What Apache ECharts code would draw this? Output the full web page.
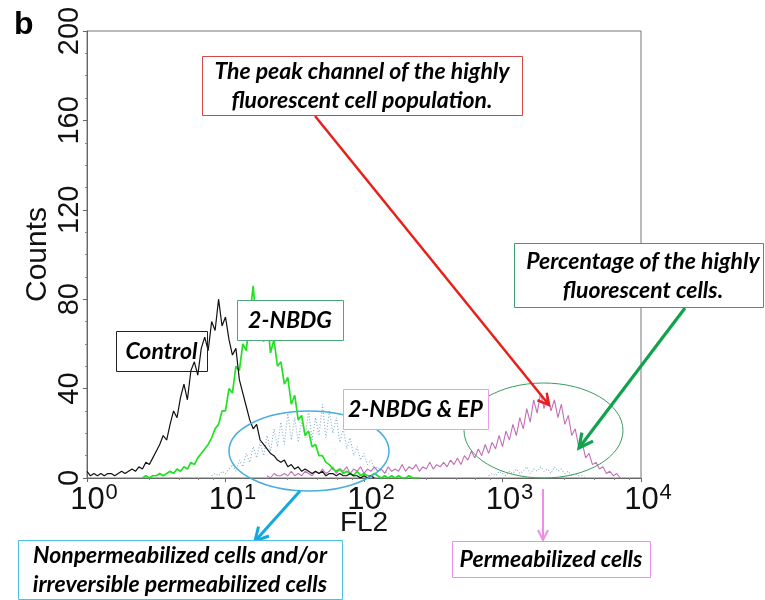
<!DOCTYPE html>
<html><head><meta charset="utf-8">
<script src="https://cdn.jsdelivr.net/npm/echarts@6/dist/echarts.min.js"></script>
<style>html,body{margin:0;padding:0;background:#fff}#c{width:765px;height:600px}</style>
</head><body><div id="c"></div>
<script>
// FL2 channel grid: one channel per 0.025 decade
const LOG_STEP = 0.025;
const xTickExponents = [0, 1, 2, 3, 4];
const yTicks = [0, 40, 80, 120, 160, 200];

// Control (black)
const controlStart = 0;
const controlCounts = [3,1,2,1,2,1,2,2,1,2,
 3,2,3,4,3,5,4,7,6,9,
 12,15,19,17,24,30,27,36,42,35,
 48,52,46,58,63,57,70,66,80,68,
 72,62,55,58,44,38,32,26,22,24,
 17,15,13,11,10,8,7,8,5,6,
 4,5,3,4,3,2,3,2,3,1,
 2,2,1,2,1,1,2,1,1,0,
 1,0,1,0];

// 2-NBDG (green)
const nbdgStart = 16;
const nbdgCounts = [0,1,0,1,1,2,1,2,3,2,
 4,3,5,4,7,6,9,11,13,15,
 18,22,24,30,30,40,38,50,48,60,
 57,72,86,66,76,61,72,56,62,50,
 52,42,45,33,37,26,28,19,21,14,
 15,10,10,7,6,4,3,4,2,3,
 2,1,3,1,2,1,1,2,1,0,
 1,0,1,0,1,0,0,1,0,0,0];

// 2-NBDG & EP, non-permeabilized part (light blue, dotted)
const lowStart = 36;
const lowCounts = [1,2,1,3,2,4,6,3,8,5,
 11,7,14,9,16,10,19,12,22,14,
 25,15,29,17,27,16,26,18,30,17,
 27,19,33,18,30,20,27,16,22,13,
 18,10,14,8,11,6,8,4,5,3,
 3,2,1];
const lowHighStart = 116;
const lowHighCounts = [1,2,1,3,2,1,3,2,4,2,3,5,2,4,3,5,3,4,2,5,3,4,2,3,1,2,1,1,0];

// 2-NBDG & EP (pink)
const epStart = 52;
const epCounts = [1,0,2,1,1,2,1,3,1,2,
 1,3,2,1,3,2,4,2,3,5,
 2,4,3,5,2,4,3,5,2,4,
 3,5,3,4,2,5,3,4,3,6,
 3,5,4,6,3,5,4,7,4,6,
 5,7,5,8,6,9,6,10,8,12,
 9,13,10,15,11,16,13,19,14,21,
 17,24,19,27,22,31,25,35,29,38,
 31,37,30,35,27,33,24,28,19,22,
 14,16,9,11,6,7,4,5,2,3,
 1,2,0];

function toPairs(start, counts) {
  return counts.map((v, i) => [Math.pow(10, (start + i) * LOG_STEP), v]);
}

const FONT_AX = 'Liberation Sans, Arial, sans-serif';
const FONT_NOTE = 'Lato, Open Sans, sans-serif';

function arrow(x1, y1, x2, y2, color, w, hl, hw) {
  const dx = x2 - x1, dy = y2 - y1, L = Math.hypot(dx, dy), ux = dx / L, uy = dy / L;
  const bx = x2 - ux * hl, by = y2 - uy * hl, px = -uy, py = ux;
  return [
    { type: 'line', z: 100, shape: { x1: x1, y1: y1, x2: x2 - ux * 1.5, y2: y2 - uy * 1.5 }, style: { stroke: color, lineWidth: w } },
    { type: 'polyline', z: 100, shape: { points: [[bx + px * hw, by + py * hw], [x2, y2], [bx - px * hw, by - py * hw]] }, style: { stroke: color, lineWidth: w, fill: null, lineJoin: 'miter' } }
  ];
}
function box(x, y, w, h, color, lines, fill, cx) {
  return [
    { type: 'rect', z: 100, shape: { x: x + 0.5, y: y + 0.5, width: w, height: h }, style: { fill: fill, stroke: color, lineWidth: 1 } },
    { type: 'text', z: 101, style: { text: lines.join('\n'), x: cx != null ? cx : x + w / 2, y: y + h / 2 + 1, align: 'center', verticalAlign: 'middle',
      fontFamily: FONT_NOTE, fontStyle: 'italic', fontWeight: 'bold', fontSize: 23, lineHeight: 29, fill: '#000' } }
  ];
}
function ellipse(cx, cy, rx, ry, color, w) {
  return { type: 'ellipse', z: 99, shape: { cx: cx, cy: cy, rx: rx, ry: ry }, style: { fill: null, stroke: color, lineWidth: w } };
}

const graphics = [].concat(
  [{ type: 'text', z: 101, style: { text: 'b', x: 14, y: 9, fontFamily: FONT_AX, fontWeight: 'bold', fontSize: 32, fill: '#000' } }],
  ellipse(309, 451, 80, 40, '#4aaedc', 1.5),
  ellipse(543.5, 430.5, 79.5, 47.5, '#3c9c5c', 1),
  arrow(315, 116, 549, 405, '#e8201a', 2.5, 11, 6),
  arrow(685, 308, 579, 448, '#12a24e', 3.2, 14, 7),
  arrow(300, 491, 255, 541, '#12a8e0', 3, 13, 7),
  arrow(543, 489, 543, 540, '#f08ce8', 2, 10, 5),
  box(202, 56, 320, 59, '#d04848', ['The peak channel of the highly', 'fluorescent cell population.'], '#fff'),
  box(514, 243, 249, 64, '#3c9c6c', ['Percentage of the highly', 'fluorescent cells.'], '#fff', 643),
  box(116, 331, 91, 40, '#222', ['Control'], 'rgba(255,255,255,0)'),
  box(237, 300, 106, 40, '#4aaa7a', ['2-NBDG'], '#fff'),
  box(343, 389, 145, 40, '#ec9cec', ['2-NBDG & EP'], '#fff'),
  box(18, 540, 324, 59, '#4bc0e0', ['Nonpermeabilized cells and/or', 'irreversible permeabilized cells'], '#fff'),
  box(452, 541, 198, 36, '#e890ec', ['Permeabilized cells'], '#fff')
);

const chart = echarts.init(document.getElementById('c'), null, { renderer: 'canvas' });
chart.setOption({
  animation: false,
  backgroundColor: '#fff',
  grid: { left: 87, right: 124, top: 31, bottom: 122, show: true, borderColor: '#777', borderWidth: 1 },
  xAxis: {
    type: 'log', logBase: 10,
    min: Math.pow(10, xTickExponents[0]), max: Math.pow(10, xTickExponents[xTickExponents.length - 1]),
    name: 'FL2', nameLocation: 'middle', nameGap: 31, nameMoveOverlap: false,
    nameTextStyle: { fontFamily: FONT_AX, fontSize: 28, color: '#111' },
    axisLine: { lineStyle: { color: '#666', width: 1 } },
    axisTick: { show: true, length: 4, lineStyle: { color: '#666' } },
    minorTick: { show: true, splitNumber: 5, length: 2, lineStyle: { color: '#888' } },
    splitLine: { show: false },
    axisLabel: {
      margin: 4,
      formatter: function (v) {
        const e = Math.round(Math.log10(v));
        if (xTickExponents.indexOf(e) < 0) return '';
        return '{p|}{b|10}{s|' + e + '}';
      },
      rich: {
        p: { width: 14 },
        b: { fontFamily: FONT_AX, fontSize: 31, lineHeight: 36, color: '#111' },
        s: { fontFamily: FONT_AX, fontSize: 22, verticalAlign: 'top', padding: [0, 0, 0, 1], color: '#111' }
      }
    }
  },
  yAxis: {
    type: 'value', min: yTicks[0], max: yTicks[yTicks.length - 1], interval: yTicks[1] - yTicks[0],
    name: 'Counts', nameLocation: 'middle', nameGap: 34, nameRotate: 90, nameMoveOverlap: false,
    nameTextStyle: { fontFamily: FONT_AX, fontSize: 30, color: '#111' },
    axisLine: { show: true, lineStyle: { color: '#666', width: 1 } },
    axisTick: { show: true, length: 4, lineStyle: { color: '#666' } },
    minorTick: { show: true, splitNumber: 4, length: 2, lineStyle: { color: '#888' } },
    splitLine: { show: false },
    axisLabel: { rotate: 90, margin: 3, fontFamily: FONT_AX, fontSize: 29, color: '#111' }
  },
  series: [
    { name: '2-NBDG & EP', type: 'line', data: toPairs(epStart, epCounts), symbol: 'none', lineStyle: { color: '#c070b8', width: 1.1 }, z: 2 },
    { name: 'low', type: 'line', data: toPairs(lowStart, lowCounts), symbol: 'none', lineStyle: { color: '#80aec4', width: 1.1, type: [1, 2] }, z: 3 },
    { name: 'low2', type: 'line', data: toPairs(lowHighStart, lowHighCounts), symbol: 'none', lineStyle: { color: '#80aec4', width: 1.1, type: [1, 2] }, z: 3 },
    { name: '2-NBDG', type: 'line', data: toPairs(nbdgStart, nbdgCounts), symbol: 'none', lineStyle: { color: '#22e022', width: 1.7 }, z: 4 },
    { name: 'Control', type: 'line', data: toPairs(controlStart, controlCounts), symbol: 'none', lineStyle: { color: '#111', width: 1.2 }, z: 5 }
  ],
  graphic: graphics
});
</script></body></html>
